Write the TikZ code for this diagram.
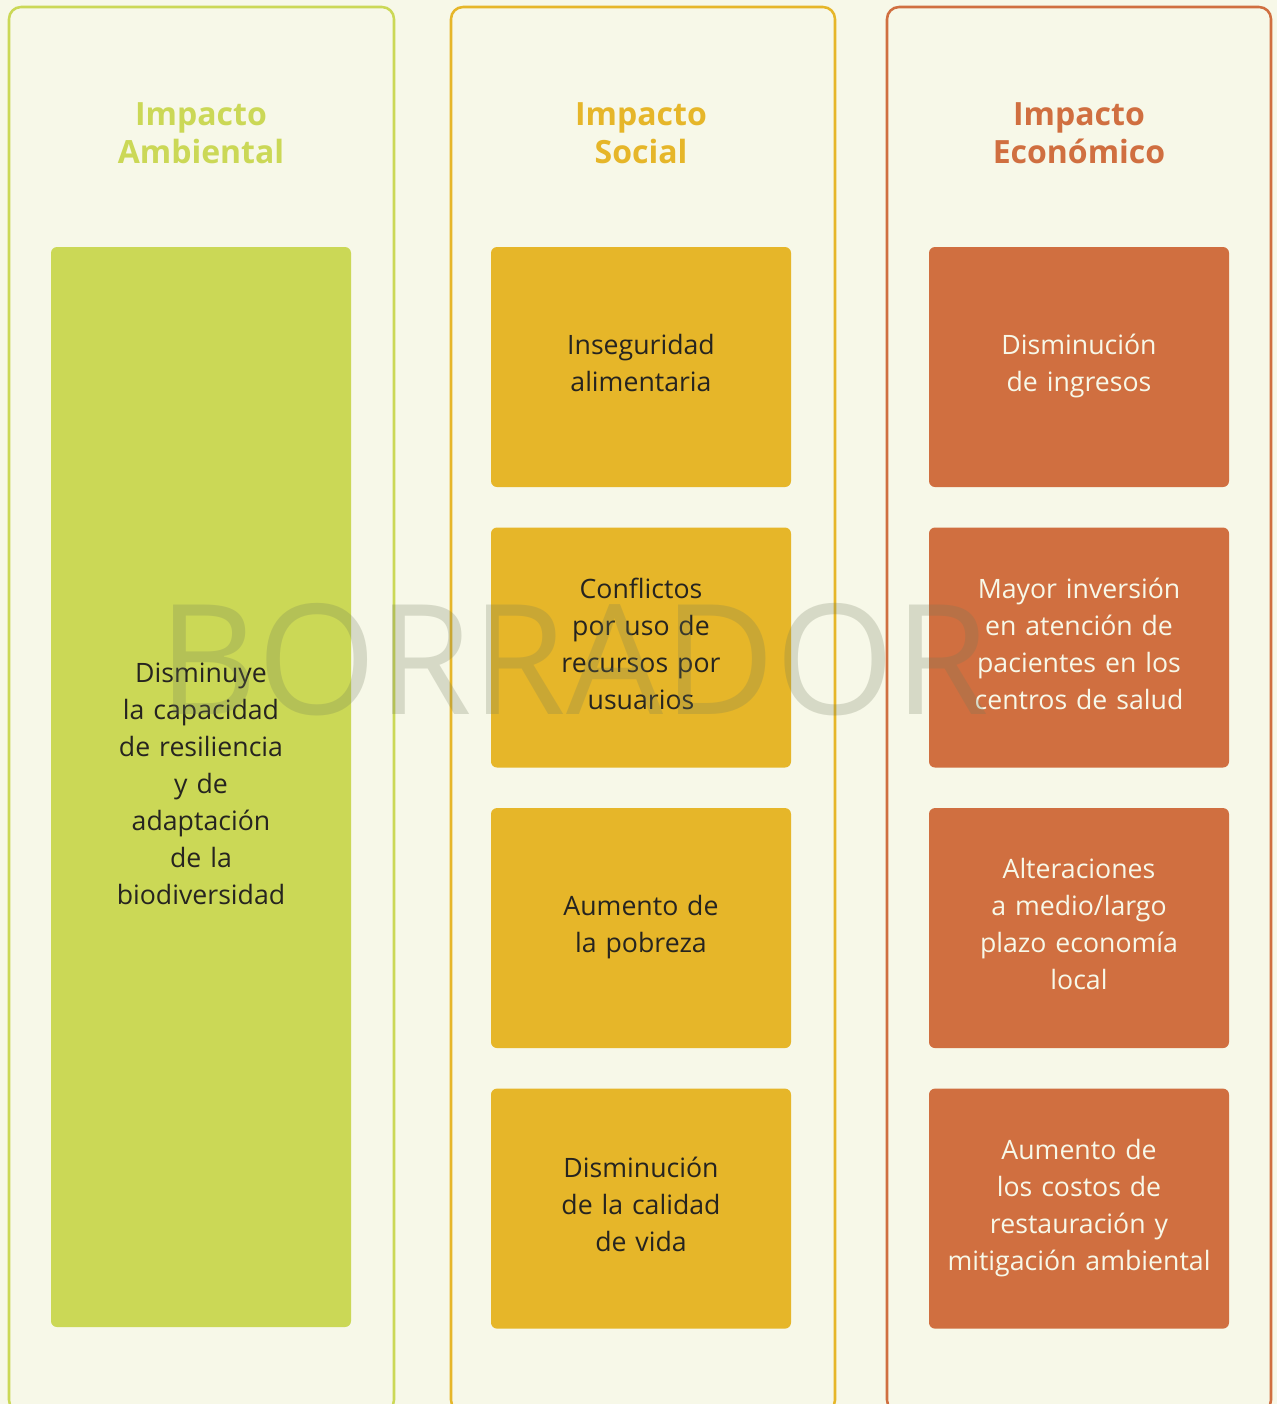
\documentclass[tikz,border=0pt]{standalone}
\usepackage{fontspec}
\setmainfont{Open Sans}
\usetikzlibrary{positioning}

\definecolor{crema}{HTML}{F7F8E8}
\definecolor{verde}{HTML}{CBD856}
\definecolor{amarillo}{HTML}{E6B629}
\definecolor{naranja}{HTML}{D06F40}
\definecolor{tinta}{HTML}{262420}
\definecolor{marca}{HTML}{6E785A}

\newcommand{\puntal}{\rule[-9.2pt]{0pt}{27.6pt}}

\tikzset{
  marco/.style={draw=#1, line width=1.9pt, rounded corners=9pt},
  titulo/.style={text=#1, font=\fontsize{24}{28.5}\selectfont\bfseries, align=center},
  tarjeta/.style={fill=#1, rounded corners=4.5pt, minimum width=225pt, minimum height=180pt,
    text width=215pt, align=center, text=tinta, font=\fontsize{20}{27.75}\selectfont, inner sep=0pt,
    execute at begin node=\puntal, execute at end node=\puntal},
}

\begin{document}
\begin{tikzpicture}[x=0.75pt, y=-0.75pt, node distance=30pt]
  % fondo
  \fill[crema] (0,0) rectangle (1277,1404);
  \useasboundingbox (0,0) rectangle (1277,1404);

  % columnas
  \draw[marco=verde] (9,7) rectangle (394,1412);
  \draw[marco=amarillo] (451,7) rectangle (835,1412);
  \draw[marco=naranja] (887,7) rectangle (1271,1412);

  \node[titulo=verde] (tamb) at (201,133) {Impacto\\Ambiental};
  \node[titulo=amarillo] (tsoc) at (641,133) {Impacto\\Social};
  \node[titulo=naranja] (teco) at (1079,133) {Impacto\\Económico};

  % ambiental
  \node[tarjeta=verde, minimum height=810pt] (amb) at (201,787)
    {Disminuye\\la capacidad\\de resiliencia\\y de\\adaptación\\de la\\biodiversidad};

  % social
  \node[tarjeta=amarillo] (soc1) at (641,367) {Inseguridad\\alimentaria};
  \node[tarjeta=amarillo, below=of soc1] (soc2) {Conflictos\\por uso de\\recursos por\\usuarios};
  \node[tarjeta=amarillo, below=of soc2] (soc3) {Aumento de\\la pobreza};
  \node[tarjeta=amarillo, below=of soc3] (soc4) {Disminución\\de la calidad\\de vida};

  % economico
  \node[tarjeta=naranja, text=crema] (eco1) at (1079,367) {Disminución\\de ingresos};
  \node[tarjeta=naranja, text=crema, below=of eco1] (eco2) {Mayor inversión\\en atención de\\pacientes en los\\centros de salud};
  \node[tarjeta=naranja, text=crema, below=of eco2] (eco3) {Alteraciones\\a medio/largo\\plazo economía\\local};
  \node[tarjeta=naranja, text=crema, below=of eco3] (eco4) {Aumento de\\los costos de\\restauración y\\mitigación ambiental};

  % marca de agua
  \node[text=marca, opacity=0.24, inner sep=0pt, font=\fontsize{115}{115}\selectfont] (borrador) at (574,660) {BORRADOR};
\end{tikzpicture}
\end{document}
